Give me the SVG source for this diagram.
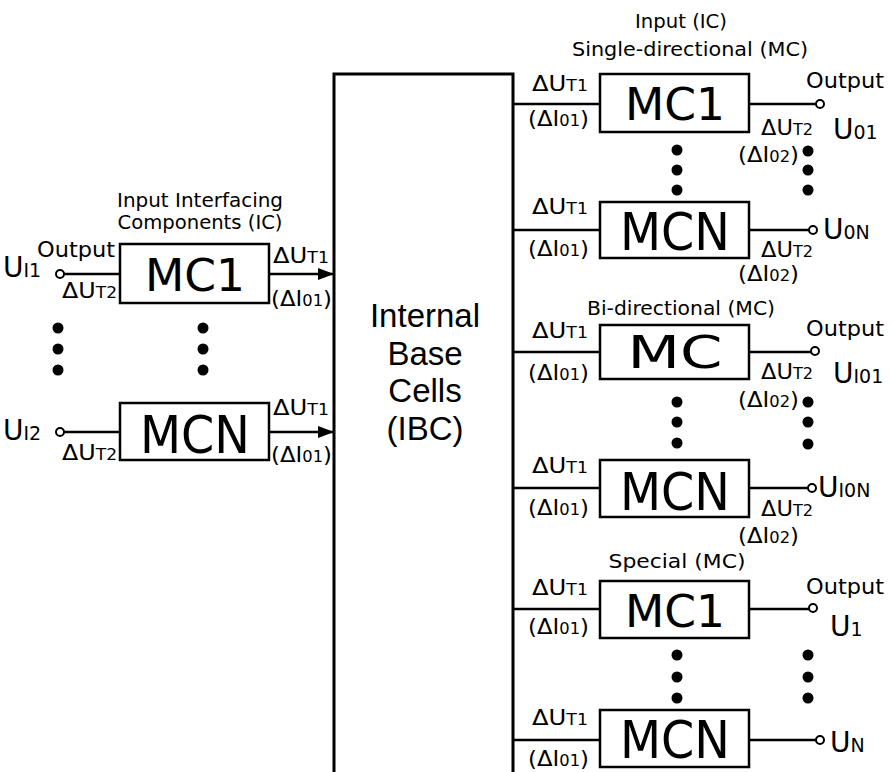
<svg xmlns="http://www.w3.org/2000/svg" width="894" height="772" viewBox="0 0 894 772">
<style>
text{font-family:"DejaVu Sans","Liberation Sans",sans-serif;fill:#000}
.lb{font-size:21px}
.s{font-size:15px}
.hd{font-size:20px}
.mc{font-size:44px;text-anchor:middle}
.mcn{font-size:52px;text-anchor:middle}
.ibc{font-family:"Liberation Sans",sans-serif;font-size:33px;text-anchor:middle}
.bu{font-size:28px}
.bs{font-size:19px}
.box{fill:#fff;stroke:#000;stroke-width:2.5}
.w{stroke:#000;stroke-width:2.5;fill:none}
.t{fill:#fff;stroke:#000;stroke-width:2}
.d{fill:#000}
</style>
<defs>
<marker id="ah" markerWidth="16" markerHeight="12" refX="15" refY="6" orient="auto" markerUnits="userSpaceOnUse">
<path d="M0,0 L16,6 L0,12 Z" fill="#000"/>
</marker>
</defs>

<g id="connectors">
<line class="w" x1="64" y1="274" x2="120" y2="274"/>
<line class="w" x1="269" y1="274" x2="333" y2="274" marker-end="url(#ah)"/>
<line class="w" x1="64" y1="432" x2="120" y2="432"/>
<line class="w" x1="269" y1="432" x2="333" y2="432" marker-end="url(#ah)"/>
<line class="w" x1="513" y1="104" x2="600" y2="104"/>
<line class="w" x1="749" y1="104" x2="816" y2="104"/>
<line class="w" x1="513" y1="230" x2="600" y2="230"/>
<line class="w" x1="749" y1="230" x2="809" y2="230"/>
<line class="w" x1="513" y1="352" x2="600" y2="352"/>
<line class="w" x1="749" y1="352" x2="811" y2="352"/>
<line class="w" x1="513" y1="488" x2="600" y2="488"/>
<line class="w" x1="749" y1="488" x2="808" y2="488"/>
<line class="w" x1="513" y1="609" x2="600" y2="609"/>
<line class="w" x1="749" y1="609" x2="809" y2="609"/>
<line class="w" x1="513" y1="740" x2="600" y2="740"/>
<line class="w" x1="749" y1="740" x2="816" y2="740"/>
<circle class="t" cx="60" cy="274" r="4"/>
<circle class="t" cx="60" cy="432" r="4"/>
<circle class="t" cx="820" cy="104" r="4"/>
<circle class="t" cx="813" cy="230" r="4"/>
<circle class="t" cx="815" cy="351" r="4"/>
<circle class="t" cx="812" cy="488" r="4"/>
<circle class="t" cx="813" cy="608" r="4"/>
<circle class="t" cx="820" cy="740" r="4"/>
</g>

<g id="ibc">
<path d="M334,772 V74 H513 V772" fill="none" stroke="#000" stroke-width="3"/>
<text class="ibc" x="425" y="327">Internal</text>
<text class="ibc" x="425" y="365">Base</text>
<text class="ibc" x="425" y="402">Cells</text>
<text class="ibc" x="425" y="440">(IBC)</text>
</g>

<g id="ic-header">
<text class="hd" x="200" y="207" text-anchor="middle" textLength="166" lengthAdjust="spacingAndGlyphs">Input Interfacing</text>
<text class="hd" x="200" y="229" text-anchor="middle" textLength="165" lengthAdjust="spacingAndGlyphs">Components (IC)</text>
</g>

<g id="ic-mc1">
<rect class="box" x="120" y="244" width="149" height="59"/>
<text class="mc" x="195" y="291" textLength="100" lengthAdjust="spacingAndGlyphs">MC1</text>
<text class="lb" x="37" y="257" textLength="78" lengthAdjust="spacingAndGlyphs">Output</text>
<text x="3" y="277"><tspan class="bu">U</tspan><tspan class="bs">I1</tspan></text>
<text class="lb" x="62" y="298" textLength="55" lengthAdjust="spacingAndGlyphs">ΔU<tspan class="s">T2</tspan></text>
<text class="lb" x="273" y="263" textLength="56" lengthAdjust="spacingAndGlyphs">ΔU<tspan class="s">T1</tspan></text>
<text class="lb" x="271" y="306" textLength="61" lengthAdjust="spacingAndGlyphs">(ΔI<tspan class="s">01</tspan>)</text>
</g>

<g id="ic-dots">
<circle class="d" cx="58" cy="328" r="5.5"/>
<circle class="d" cx="58" cy="349" r="5.5"/>
<circle class="d" cx="58" cy="370" r="5.5"/>
<circle class="d" cx="203" cy="328" r="5.5"/>
<circle class="d" cx="203" cy="349" r="5.5"/>
<circle class="d" cx="203" cy="370" r="5.5"/>
</g>

<g id="ic-mcn">
<rect class="box" x="120" y="403" width="149" height="57"/>
<text class="mcn" x="195" y="453" textLength="110" lengthAdjust="spacingAndGlyphs">MCN</text>
<text x="3" y="440"><tspan class="bu">U</tspan><tspan class="bs">I2</tspan></text>
<text class="lb" x="62" y="460" textLength="55" lengthAdjust="spacingAndGlyphs">ΔU<tspan class="s">T2</tspan></text>
<text class="lb" x="273" y="415" textLength="56" lengthAdjust="spacingAndGlyphs">ΔU<tspan class="s">T1</tspan></text>
<text class="lb" x="271" y="462" textLength="61" lengthAdjust="spacingAndGlyphs">(ΔI<tspan class="s">01</tspan>)</text>
</g>

<g id="single-header">
<text class="hd" x="681" y="28" text-anchor="middle" textLength="92" lengthAdjust="spacingAndGlyphs">Input  (IC)</text>
<text class="hd" x="690" y="56" text-anchor="middle" textLength="236" lengthAdjust="spacingAndGlyphs">Single-directional  (MC)</text>
</g>

<g id="single-mc1">
<rect class="box" x="600" y="74" width="149" height="58"/>
<text class="mc" x="675" y="120" textLength="100" lengthAdjust="spacingAndGlyphs">MC1</text>
<text class="lb" x="532" y="91" textLength="56" lengthAdjust="spacingAndGlyphs">ΔU<tspan class="s">T1</tspan></text>
<text class="lb" x="528" y="126" textLength="61" lengthAdjust="spacingAndGlyphs">(ΔI<tspan class="s">01</tspan>)</text>
<text class="lb" x="806" y="88" textLength="78" lengthAdjust="spacingAndGlyphs">Output</text>
<text class="lb" x="761" y="135" textLength="52" lengthAdjust="spacingAndGlyphs">ΔU<tspan class="s">T2</tspan></text>
<text class="lb" x="738" y="162" textLength="61" lengthAdjust="spacingAndGlyphs">(ΔI<tspan class="s">02</tspan>)</text>
<text x="833" y="139"><tspan class="bu">U</tspan><tspan class="bs">01</tspan></text>
</g>

<g id="single-dots">
<circle class="d" cx="677" cy="150" r="5.5"/>
<circle class="d" cx="677" cy="170" r="5.5"/>
<circle class="d" cx="677" cy="190" r="5.5"/>
<circle class="d" cx="808" cy="151" r="5.5"/>
<circle class="d" cx="808" cy="170" r="5.5"/>
<circle class="d" cx="808" cy="190" r="5.5"/>
</g>

<g id="single-mcn">
<rect class="box" x="600" y="202" width="149" height="56"/>
<text class="mcn" x="675" y="250" textLength="110" lengthAdjust="spacingAndGlyphs">MCN</text>
<text class="lb" x="532" y="214" textLength="56" lengthAdjust="spacingAndGlyphs">ΔU<tspan class="s">T1</tspan></text>
<text class="lb" x="528" y="256" textLength="61" lengthAdjust="spacingAndGlyphs">(ΔI<tspan class="s">01</tspan>)</text>
<text class="lb" x="761" y="257" textLength="52" lengthAdjust="spacingAndGlyphs">ΔU<tspan class="s">T2</tspan></text>
<text class="lb" x="738" y="281" textLength="61" lengthAdjust="spacingAndGlyphs">(ΔI<tspan class="s">02</tspan>)</text>
<text x="823" y="239"><tspan class="bu">U</tspan><tspan class="bs">0N</tspan></text>
</g>

<g id="bi-header">
<text class="hd" x="681" y="315" text-anchor="middle" textLength="188" lengthAdjust="spacingAndGlyphs">Bi-directional  (MC)</text>
</g>

<g id="bi-mc">
<rect class="box" x="600" y="325" width="149" height="54"/>
<text class="mc" x="675" y="368" textLength="95" lengthAdjust="spacingAndGlyphs">MC</text>
<text class="lb" x="532" y="338" textLength="56" lengthAdjust="spacingAndGlyphs">ΔU<tspan class="s">T1</tspan></text>
<text class="lb" x="528" y="380" textLength="61" lengthAdjust="spacingAndGlyphs">(ΔI<tspan class="s">01</tspan>)</text>
<text class="lb" x="806" y="336" textLength="78" lengthAdjust="spacingAndGlyphs">Output</text>
<text class="lb" x="761" y="379" textLength="52" lengthAdjust="spacingAndGlyphs">ΔU<tspan class="s">T2</tspan></text>
<text class="lb" x="738" y="407" textLength="61" lengthAdjust="spacingAndGlyphs">(ΔI<tspan class="s">02</tspan>)</text>
<text x="833" y="383"><tspan class="bu">U</tspan><tspan class="bs">I01</tspan></text>
</g>

<g id="bi-dots">
<circle class="d" cx="677" cy="402" r="5.5"/>
<circle class="d" cx="677" cy="422" r="5.5"/>
<circle class="d" cx="677" cy="443" r="5.5"/>
<circle class="d" cx="808" cy="402" r="5.5"/>
<circle class="d" cx="808" cy="422" r="5.5"/>
<circle class="d" cx="808" cy="444" r="5.5"/>
</g>

<g id="bi-mcn">
<rect class="box" x="600" y="460" width="149" height="57"/>
<text class="mcn" x="675" y="510" textLength="110" lengthAdjust="spacingAndGlyphs">MCN</text>
<text class="lb" x="532" y="473" textLength="56" lengthAdjust="spacingAndGlyphs">ΔU<tspan class="s">T1</tspan></text>
<text class="lb" x="528" y="515" textLength="61" lengthAdjust="spacingAndGlyphs">(ΔI<tspan class="s">01</tspan>)</text>
<text class="lb" x="761" y="516" textLength="52" lengthAdjust="spacingAndGlyphs">ΔU<tspan class="s">T2</tspan></text>
<text class="lb" x="738" y="543" textLength="61" lengthAdjust="spacingAndGlyphs">(ΔI<tspan class="s">02</tspan>)</text>
<text x="818" y="497"><tspan class="bu">U</tspan><tspan class="bs">I0N</tspan></text>
</g>

<g id="special-header">
<text class="hd" x="677" y="568" text-anchor="middle" textLength="137" lengthAdjust="spacingAndGlyphs">Special  (MC)</text>
</g>

<g id="special-mc1">
<rect class="box" x="600" y="581" width="149" height="57"/>
<text class="mc" x="675" y="627" textLength="100" lengthAdjust="spacingAndGlyphs">MC1</text>
<text class="lb" x="532" y="595" textLength="56" lengthAdjust="spacingAndGlyphs">ΔU<tspan class="s">T1</tspan></text>
<text class="lb" x="528" y="634" textLength="61" lengthAdjust="spacingAndGlyphs">(ΔI<tspan class="s">01</tspan>)</text>
<text class="lb" x="806" y="594" textLength="78" lengthAdjust="spacingAndGlyphs">Output</text>
<text x="830" y="636"><tspan class="bu">U</tspan><tspan class="bs">1</tspan></text>
</g>

<g id="special-dots">
<circle class="d" cx="677" cy="655" r="5.5"/>
<circle class="d" cx="677" cy="677" r="5.5"/>
<circle class="d" cx="677" cy="698" r="5.5"/>
<circle class="d" cx="808" cy="655" r="5.5"/>
<circle class="d" cx="808" cy="677" r="5.5"/>
<circle class="d" cx="808" cy="698" r="5.5"/>
</g>

<g id="special-mcn">
<rect class="box" x="600" y="710" width="149" height="57"/>
<text class="mcn" x="675" y="758" textLength="110" lengthAdjust="spacingAndGlyphs">MCN</text>
<text class="lb" x="532" y="725" textLength="56" lengthAdjust="spacingAndGlyphs">ΔU<tspan class="s">T1</tspan></text>
<text class="lb" x="528" y="766" textLength="61" lengthAdjust="spacingAndGlyphs">(ΔI<tspan class="s">01</tspan>)</text>
<text x="830" y="752"><tspan class="bu">U</tspan><tspan class="bs">N</tspan></text>
</g>
</svg>
